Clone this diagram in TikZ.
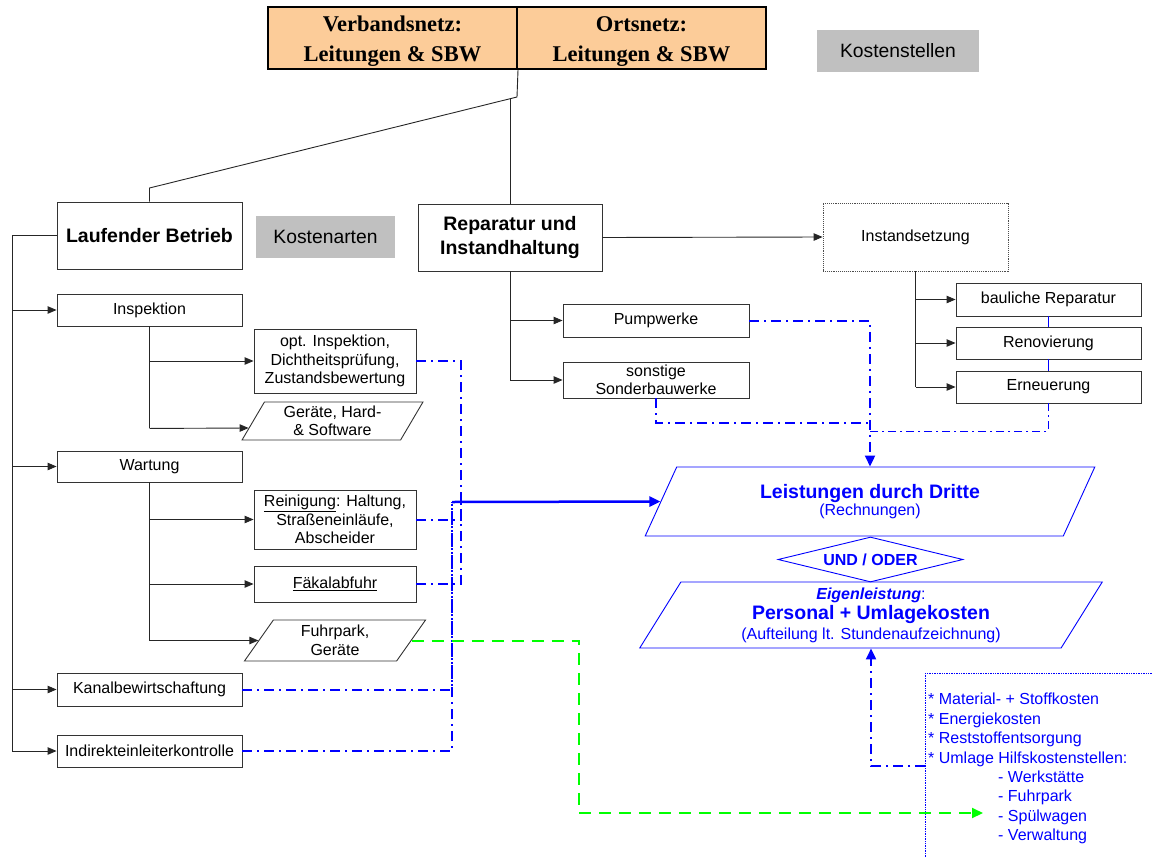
\documentclass[tikz,border=0pt]{standalone}
\usepackage{fontspec}
\setmainfont{Liberation Sans}
\newfontfamily\tnr{Liberation Serif}
\usetikzlibrary{arrows.meta,shapes.geometric,calc}
\definecolor{peach}{RGB}{252,204,153}
\definecolor{boxgray}{RGB}{192,192,192}
\definecolor{bl}{RGB}{0,0,255}
\definecolor{gr}{RGB}{0,255,0}
\begin{document}
\begin{tikzpicture}[x=1pt,y=-1pt,
  conn/.style={draw=black!85, line width=0.9pt},
  arr/.style={conn, -{Triangle[length=9pt,width=7.5pt]}},
  box/.style={draw=black!80, line width=0.9pt, inner sep=0pt, align=center, minimum width=185pt, font=\fontsize{16}{18.5}\selectfont},
  bbox/.style={box, font=\fontsize{19.5}{24}\selectfont\bfseries},
  gbox/.style={fill=boxgray, inner sep=0pt, font=\fontsize{19.3}{22}\selectfont},
  para/.style={box, trapezium, trapezium left angle=62, trapezium right angle=118, trapezium stretches=true},
  bpara/.style={draw=bl, line width=0.9pt, inner sep=0pt, align=center, text=bl, trapezium, trapezium left angle=63, trapezium right angle=117, trapezium stretches=true},
  topbox/.style={draw=black, line width=2pt, fill=peach, inner sep=0pt, minimum width=249pt, minimum height=62pt, align=center, font=\tnr\bfseries\fontsize{22.5}{30}\selectfont},
  bdd/.style={draw=bl, line width=2pt, dash pattern=on 10pt off 5pt on 2pt off 5pt},
  bddthin/.style={draw=bl, line width=1pt, dash pattern=on 8pt off 4pt on 2pt off 4pt},
  barr/.style={-{Triangle[length=11pt,width=10pt]}},
  gdash/.style={draw=gr, line width=2pt, dash pattern=on 12pt off 8pt}
]
\useasboundingbox (0,0) rectangle (1152,857);
\clip (0,0) rectangle (1152,857);

% top boxes
\node[topbox] (verb) at (392.5,38) {\vphantom{V}\\[-22pt]Verbandsnetz:\\Leitungen \& SBW};
\node[topbox] (orts) at (641.5,38) {\vphantom{V}\\[-22pt]Ortsnetz:\\Leitungen \& SBW};
\node[gbox, minimum width=162pt, minimum height=42pt] (kst) at (898,51) {Kostenstellen};

% left column
\node[bbox, minimum height=67pt] (laufend) at (149.5,235.5) {Laufender Betrieb};
\node[gbox, minimum width=139pt, minimum height=42pt] (kart) at (325.5,237) {Kostenarten};
\node[box, minimum height=32pt] (inspektion) at (149.5,310) {Inspektion};
\node[box, minimum width=162pt, minimum height=64pt] (opt) at (335,361) {opt. Inspektion,\\Dichtheitsprüfung,\\Zustandsbewertung};
\node[para, minimum width=181pt, minimum height=38pt] (geraete) at (332.5,421) {Geräte, Hard-\\\& Software};
\node[box, minimum height=31pt] (wartung) at (149.5,466.5) {Wartung};
\node[box, minimum width=162pt, minimum height=59pt] (reinigung) at (335,519.5) {\underline{Reinigung}: Haltung,\\Straßeneinläufe,\\Abscheider};
\node[box, minimum width=162pt, minimum height=36pt] (faekal) at (335,584) {\underline{Fäkalabfuhr}};
\node[para, minimum width=182pt, minimum height=41pt] (fuhrpark) at (335,640.5) {Fuhrpark,\\Geräte};
\node[box, minimum height=33pt] (kanal) at (149.5,689.5) {Kanalbewirtschaftung};
\node[box, minimum height=32pt] (indirekt) at (149.5,751) {Indirekteinleiterkontrolle};

% middle / right
\node[bbox, minimum width=184pt, minimum height=67pt] (reparatur) at (510,237.5) {Reparatur und\\Instandhaltung};
\node[box, draw=black!70, densely dotted, line width=0.8pt, minimum height=68pt] (instand) at (915.5,237) {Instandsetzung};
\node[box, minimum width=186pt, minimum height=33pt] (pump) at (656,320.5) {Pumpwerke};
\node[box, minimum width=186pt, minimum height=36pt] (sonst) at (656,380) {sonstige\\Sonderbauwerke};
\node[box, minimum height=33pt] (baulich) at (1048.5,299.5) {bauliche Reparatur};
\node[box, minimum height=32pt] (renov) at (1048.5,343) {Renovierung};
\node[box, minimum height=32pt] (erneu) at (1048.5,387) {Erneuerung};

% blue result boxes
\node[bpara, minimum width=450pt, minimum height=69pt] (leist) at (870,501.5)
  {\fontsize{19.5}{22}\selectfont\bfseries Leistungen durch Dritte\\[1pt]\fontsize{16}{22}\selectfont\mdseries (Rechnungen)};
\node[draw=bl, line width=0.9pt, diamond, aspect=4, inner sep=0pt, minimum width=185pt, minimum height=45pt, text=bl, font=\fontsize{16}{18}\selectfont\bfseries] (undoder) at (870.5,559.5) {UND / ODER};
\node[bpara, minimum width=464pt, minimum height=66pt] (eigen) at (871,615)
  {\fontsize{16}{22}\selectfont\textbf{\textit{Eigenleistung}}:\\[2pt]\fontsize{19.5}{22}\selectfont\bfseries Personal + Umlagekosten\\[3pt]\fontsize{16}{22}\selectfont\mdseries (Aufteilung lt. Stundenaufzeichnung)};

% notes box
\node[draw=bl, densely dotted, line width=0.7pt, anchor=north west, minimum width=260pt, minimum height=220pt, inner sep=0pt] (notesbox) at (925,673) {};
\node[anchor=north west, inner sep=0pt, align=left, text=bl, font=\fontsize{16}{19.4}\selectfont] (notes) at (928,693)
  {* Material- + Stoffkosten\\* Energiekosten\\* Reststoffentsorgung\\* Umlage Hilfskostenstellen:\\\hspace*{70pt}- Werkstätte\\\hspace*{70pt}- Fuhrpark\\\hspace*{70pt}- Spülwagen\\\hspace*{70pt}- Verwaltung};

% coordinates
\coordinate (tj) at (517,97);
\coordinate (tl) at (149.5,188);
\coordinate (tr) at (510,98.7);
\coordinate (bus) at (12,0);
\coordinate (jA) at (461,502);
\coordinate (jB) at (452,502);
\coordinate (jS) at (870,423);
\coordinate (jC) at (870,431);
\coordinate (nIn) at ($(notesbox.north west)+(0,93)$);
\coordinate (gCorner) at (579,813);
\coordinate (gEnd) at (983,813);

% top tree
\draw[conn] (verb.south east) -- (tj) -- (tl) -- (laufend.north);
\draw[conn] (tr) -- (reparatur.north);

% left bus
\draw[conn] (laufend.west) -- (laufend.west -| bus) -- (indirekt.west -| bus);
\draw[arr] (inspektion.west -| bus) -- (inspektion.west);
\draw[arr] (wartung.west -| bus) -- (wartung.west);
\draw[arr] (kanal.west -| bus) -- (kanal.west);
\draw[arr] (indirekt.west -| bus) -- (indirekt.west);

% inspektion branch
\draw[conn] (inspektion.south) -- ++(0,102);
\draw[arr] (inspektion.south |- opt.west) -- (opt.west);
\draw[arr] (inspektion.south) ++(0,102) -- ($(geraete.bottom left corner)!0.32!(geraete.top left corner)$);

% wartung branch
\draw[conn] (wartung.south) -- (wartung.south |- fuhrpark.west);
\draw[arr] (wartung.south |- reinigung.west) -- (reinigung.west);
\draw[arr] (wartung.south |- faekal.west) -- (faekal.west);
\draw[arr] (wartung.south |- fuhrpark.west) -- (fuhrpark.west);

% reparatur branch
\draw[arr] (reparatur.east) -- (instand.west);
\draw[conn] (reparatur.south) -- (reparatur.south |- sonst.west);
\draw[arr] (reparatur.south |- pump.west) -- (pump.west);
\draw[arr] (reparatur.south |- sonst.west) -- (sonst.west);

% instandsetzung branch
\draw[conn] (instand.south) -- (instand.south |- erneu.west);
\draw[arr] (instand.south |- baulich.west) -- (baulich.west);
\draw[arr] (instand.south |- renov.west) -- (renov.west);
\draw[arr] (instand.south |- erneu.west) -- (erneu.west);

% blue connectors left
\draw[bdd] (opt.east) -| (jA);
\draw[bdd] (reinigung.east) -| (jA);
\draw[bdd] (faekal.east) -| (jA);
\draw[bdd] (kanal.east) -| (jB);
\draw[bdd] (indirekt.east) -| (jB);
\draw[draw=bl, line width=2.5pt, barr] (jB) -- (leist.west);

% blue connectors right
\draw[bdd, barr] (pump.east) -| (leist.north);
\draw[bdd] (sonst.south) |- (jS);
\draw[draw=bl, line width=0.8pt] (baulich.south) -- (renov.north);
\draw[draw=bl, line width=0.8pt] (renov.south) -- (erneu.north);
\draw[bddthin] (erneu.south) |- (jC);
\draw[bdd, barr] (nIn) -| (eigen.south);

% green
\draw[gdash, -{Triangle[length=11pt,width=10pt]}] (fuhrpark.east) -| (gCorner) -- (gEnd);
\end{tikzpicture}
\end{document}
